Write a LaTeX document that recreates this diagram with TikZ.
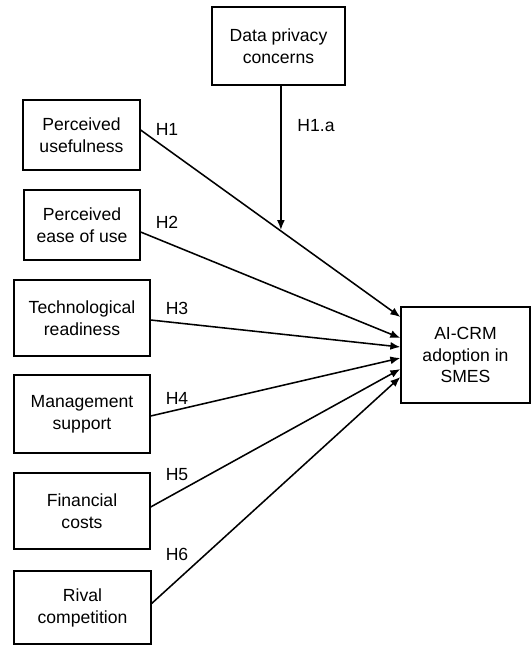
\documentclass[tikz,border=0pt]{standalone}
\usepackage{fontspec}
\setmainfont{Liberation Sans}
\usetikzlibrary{calc,arrows.meta}

\tikzset{
    factor/.style={draw, line width=0.9pt, align=center, inner sep=0pt, font=\fontsize{12.5}{15.6}\selectfont},
    hyp/.style={font=\fontsize{12.5}{15.6}\selectfont, inner sep=0pt},
    link/.style={line width=1.1pt, -{Latex[length=2.5mm,width=2mm]}}
}

\begin{document}
\begin{tikzpicture}[x=0.025cm, y=-0.025cm]
    \useasboundingbox (0,0) rectangle (531,646);
    % constructs
    \node[factor, minimum width=133*0.025cm, minimum height=78*0.025cm] (privacy) at (278.5,46) {Data privacy\\concerns};
    \node[factor, minimum width=117*0.025cm, minimum height=70*0.025cm] (useful) at (81.5,135) {Perceived\\usefulness};
    \node[factor, minimum width=116*0.025cm, minimum height=70*0.025cm] (ease) at (82,225) {Perceived\\ease of use};
    \node[factor, minimum width=136*0.025cm, minimum height=76*0.025cm] (tech) at (82,318) {Technological\\readiness};
    \node[factor, minimum width=136*0.025cm, minimum height=78*0.025cm] (mgmt) at (82,414) {Management\\support};
    \node[factor, minimum width=136*0.025cm, minimum height=76*0.025cm] (cost) at (82,511) {Financial\\costs};
    \node[factor, minimum width=137*0.025cm, minimum height=73*0.025cm] (rival) at (82.5,607.5) {Rival\\competition};
    \node[factor, minimum width=129*0.025cm, minimum height=96*0.025cm] (crm) at (465.5,355) {AI-CRM\\adoption in\\SMES};

    % hypotheses
    \draw[link] ([yshift=0.125cm]useful.east) -- ($(crm.west)+(0,-38)$);
    \draw[link] ([yshift=-0.175cm]ease.east) -- ($(crm.west)+(0,-17)$);
    \draw[link] ([yshift=-0.05cm]tech.east) -- ($(crm.west)+(0,-8)$);
    \draw[link] ([yshift=-0.05cm]mgmt.east) -- ($(crm.west)+(0,3)$);
    \draw[link] ([yshift=0.1cm]cost.east) -- ($(crm.west)+(0,14)$);
    \draw[link] ([yshift=0.1cm]rival.east) -- ($(crm.west)+(0,22)$);
    \coordinate (mod) at (281,230);
    \draw[link] ([xshift=0.06cm]privacy.south) -- ([xshift=0.06cm]privacy.south |- mod);

    \node[hyp] (h1) at (167,129) {H1};
    \node[hyp] (h1a) at (316,126) {H1.a};
    \node[hyp] (h2) at (167,222) {H2};
    \node[hyp] (h3) at (177,308) {H3};
    \node[hyp] (h4) at (177,398) {H4};
    \node[hyp] (h5) at (177,475) {H5};
    \node[hyp] (h6) at (177,554) {H6};
\end{tikzpicture}
\end{document}
